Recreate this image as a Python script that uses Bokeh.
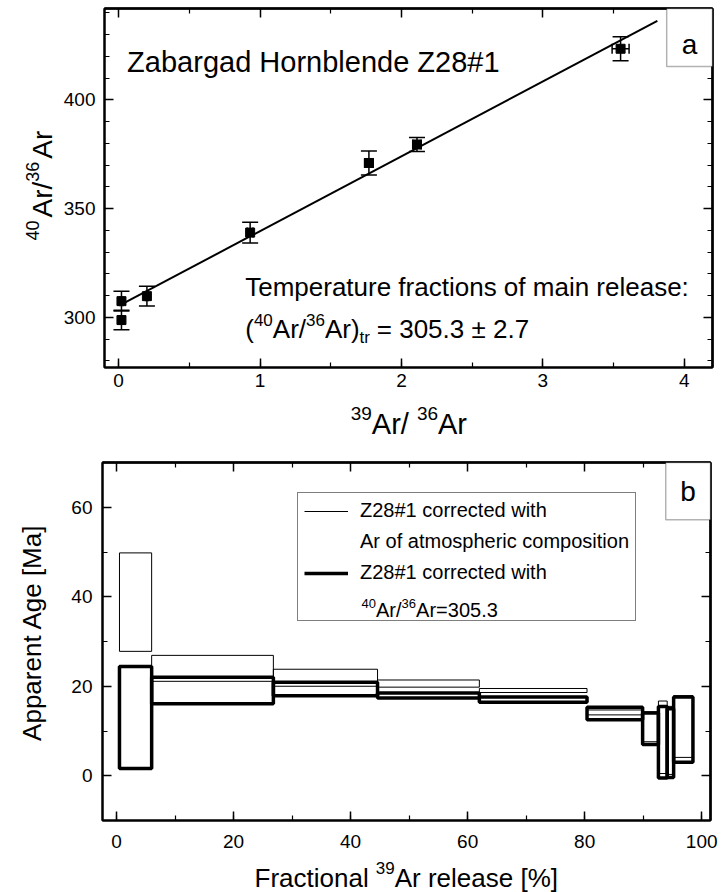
import math
from bokeh.plotting import figure
from bokeh.models import (Range1d, SingleIntervalTicker, FixedTicker, LinearAxis, Whisker,
                          TeeHead, ColumnDataSource, Label, BoxAnnotation, Legend, LegendItem)
from bokeh.layouts import column, row
from bokeh.embed import file_html
from bokeh.resources import INLINE

FONT = "Liberation Sans"

# ---------------- Panel a: isochron data ----------------
ratio39_36 = [0.02, 0.02, 0.20, 0.93, 1.77, 2.11, 3.55]
ratio40_36 = [307.5, 298.8, 309.8, 339.0, 371.0, 379.5, 423.5]
err40_36 = [4.5, 4.5, 4.5, 4.8, 5.5, 3.2, 5.5]
err39_36 = [0.01, 0.01, 0.01, 0.02, 0.03, 0.03, 0.06]
fit_intercept = 305.3
fit_slope = 34.4
fit_x = [0.02, 3.81]

# tick positions
a_x_major = [0, 1, 2, 3, 4]
a_x_minor = [0.5, 1.5, 2.5, 3.5]
a_y_major = [300, 350, 400]
a_y_minor = [280, 290, 310, 320, 330, 340, 360, 370, 380, 390, 410, 420, 430, 440]

# ---------------- Panel b: age spectra ----------------
step_edges = [0.5, 6.0, 26.8, 44.6, 62.0, 80.4, 89.9, 92.6, 94.1, 95.2, 98.5]
atm_low = [27.8, 21.1, 20.0, 19.8, 18.6, 13.6, 7.6, 0.5, 0.3, 4.1]
atm_high = [49.8, 26.9, 23.8, 21.4, 19.5, 14.7, 14.3, 16.7, 15.5, 17.9]
tr_low = [1.6, 16.1, 17.9, 17.4, 16.4, 12.5, 7.0, -0.5, -0.4, 3.0]
tr_high = [24.4, 22.0, 20.9, 18.5, 17.6, 15.3, 14.0, 15.5, 15.0, 17.6]

b_x_major = [0, 20, 40, 60, 80, 100]
b_x_minor = [10, 30, 50, 70, 90]
b_y_major = [0, 20, 40, 60]
b_y_minor = [-10, 10, 30, 50, 70]

legend_labels = ["Z28#1 corrected with", "Ar of atmospheric composition",
                 "Z28#1 corrected with", "40Ar/36Ar=305.3"]

TW = 60          # width of the strip holding the vertical axis titles
PW = 721 - TW    # width of the plot figures
LB = 102 - TW    # left border of the plot figures


def style_axis(ax, interval, minor, standoff):
    ax.ticker = SingleIntervalTicker(interval=interval, num_minor_ticks=minor)
    ax.axis_line_width = 2
    ax.axis_line_color = "black"
    ax.major_tick_in = 9
    ax.major_tick_out = 0
    ax.minor_tick_in = 5
    ax.minor_tick_out = 0
    ax.major_tick_line_width = 1.5
    ax.minor_tick_line_width = 1.2
    ax.major_tick_line_color = "black"
    ax.minor_tick_line_color = "black"
    ax.major_label_text_font = FONT
    ax.major_label_text_font_size = "19px"
    ax.major_label_text_color = "black"
    ax.major_label_standoff = standoff
    ax.axis_label = None


def mirror(p, side, majors, minors):
    for ticks, length, width in ((majors, 9, 1.5), (minors, 5, 1.2)):
        ax = LinearAxis(ticker=FixedTicker(ticks=[], minor_ticks=ticks),
                        axis_line_width=2, axis_line_color="black",
                        major_tick_in=0, major_tick_out=0,
                        minor_tick_in=length, minor_tick_out=0,
                        minor_tick_line_width=width, minor_tick_line_color="black",
                        major_label_standoff=0, axis_label=None)
        p.add_layout(ax, side)


def make_fig(xr, yr, height, top, bottom, right, xint, xmin, yint, ymin, xs, ys):
    p = figure(width=PW, height=height, x_range=Range1d(*xr), y_range=Range1d(*yr),
               output_backend="svg", toolbar_location=None,
               min_border_left=LB, min_border_right=right,
               min_border_top=top, min_border_bottom=bottom)
    p.xgrid.visible = False
    p.ygrid.visible = False
    p.outline_line_color = "black"
    p.outline_line_width = 2
    p.background_fill_color = "white"
    p.border_fill_color = "white"
    style_axis(p.below[0], xint, xmin, xs)
    style_axis(p.left[0], yint, ymin, ys)
    return p


def title_fig(w, h, xr, yr, left=0, right=0, top=0, bottom=0):
    """Blank figure for axis titles; its ranges are set so data units equal page pixels."""
    f = figure(width=w, height=h, x_range=Range1d(*xr), y_range=Range1d(*yr),
               output_backend="svg", toolbar_location=None, x_axis_type=None,
               y_axis_type=None, min_border_left=left, min_border_right=right,
               min_border_top=top, min_border_bottom=bottom)
    f.outline_line_color = None
    f.background_fill_color = "white"
    f.border_fill_color = "white"
    return f


def runs(p, x, y, pieces, angle=0.0, level="annotation"):
    """pieces: (text, font px, advance px, raise px), offset from an anchor point."""
    for txt, fs, adv, rise in pieces:
        if angle == 0:
            dx, dy = adv, rise
        else:  # rotated 90 deg counter-clockwise
            dx, dy = -rise, adv
        p.add_layout(Label(x=x, y=y, x_offset=dx, y_offset=dy, text=txt, angle=angle,
                           text_font=FONT, text_font_size=f"{fs}px", text_color="black",
                           text_baseline="alphabetic", text_align="left", level=level))


# ================= Panel a =================
xa = (-0.1, 4.2)
ya = (277, 442)
pa = make_fig(xa, ya, 395, 8, 28, 9, 1, 2, 50, 5, 6, 9)
mirror(pa, "above", a_x_major, a_x_minor)
mirror(pa, "right", a_y_major, a_y_minor)

src_a = ColumnDataSource(dict(
    x=ratio39_36, y=ratio40_36,
    ylo=[v - e for v, e in zip(ratio40_36, err40_36)],
    yhi=[v + e for v, e in zip(ratio40_36, err40_36)],
    xlo=[v - e for v, e in zip(ratio39_36, err39_36)],
    xhi=[v + e for v, e in zip(ratio39_36, err39_36)],
))
fit_y = [fit_intercept + fit_slope * v for v in fit_x]
pa.line(fit_x, fit_y, line_color="black", line_width=2)
pa.add_layout(Whisker(base="x", lower="ylo", upper="yhi", source=src_a, dimension="height",
                      line_color="black", line_width=1.5,
                      upper_head=TeeHead(size=16, line_width=1.5, line_color="black"),
                      lower_head=TeeHead(size=16, line_width=1.5, line_color="black")))
pa.add_layout(Whisker(base="y", lower="xlo", upper="xhi", source=src_a, dimension="width",
                      line_color="black", line_width=1.5,
                      upper_head=TeeHead(size=10, line_width=1.5, line_color="black"),
                      lower_head=TeeHead(size=10, line_width=1.5, line_color="black")))
pa.scatter("x", "y", source=src_a, marker="square", size=9, fill_color="black",
           line_color="black")

pa.add_layout(Label(x=0.06, y=417.2, text="Zabargad Hornblende Z28#1", text_font=FONT,
                    text_font_size="29px", text_color="black", text_baseline="alphabetic"))
pa.add_layout(Label(x=0.895, y=314, text="Temperature fractions of main release:",
                    text_font=FONT, text_font_size="26px", text_color="black",
                    text_baseline="alphabetic"))
runs(pa, 0.895, 294.5, [("(", 26, 0.0, 0), ("40", 17, 8.7, 9), ("Ar/", 26, 27.6, 0),
                        ("36", 17, 60.8, 9), ("Ar)", 26, 79.7, 0), ("tr", 17, 114.4, -8),
                        ("= 305.3 \u00b1 2.7", 26, 131.6, 0)])

box_a_left = 3.876
box_a_bottom = 415.3
pa.add_layout(BoxAnnotation(left=box_a_left, right=xa[1], bottom=box_a_bottom, top=ya[1],
                            fill_color="white", fill_alpha=1, line_color="black",
                            line_width=1.5))
pa.add_layout(Label(x=(box_a_left + xa[1]) / 2, y=425.5, text="a",
                    text_font=FONT, text_font_size="28px", text_color="black",
                    text_align="center", text_baseline="middle"))

# axis titles of panel a (page-pixel coordinates)
ya_title = title_fig(TW, 440, (0, TW), (367, 8), top=8, bottom=73)
runs(ya_title, 42, 240, [("40", 18, 0.0, 10), ("Ar/", 28, 23.0, 0), ("36", 18, 58.8, 10),
                         ("Ar", 28, 81.8, 0)], angle=math.pi / 2)
xa_title = title_fig(PW, 45, (102, 712), (440, 395), left=LB, right=9)
runs(xa_title, 349, 423, [("39", 19, 0.0, 10), ("Ar/", 29, 21.1, 0), ("36", 19, 66.2, 10),
                          ("Ar", 29, 87.3, 0)])

# ================= Panel b =================
xb = (-2.4, 101.5)
yb = (-10, 70)
pb = make_fig(xb, yb, 412, 22, 32, 11, 20, 2, 20, 2, 14, 10)
mirror(pb, "above", b_x_major, b_x_minor)
mirror(pb, "right", b_y_major, b_y_minor)

lefts = step_edges[:-1]
rights = step_edges[1:]
pb.quad(left=lefts, right=rights, bottom=atm_low, top=atm_high, fill_color=None,
        line_color="black", line_width=1)
pb.quad(left=lefts, right=rights, bottom=tr_low, top=tr_high, fill_color=None,
        line_color="black", line_width=3.5)

# one-point lines: invisible in the plot, used only for legend samples
leg_thin = pb.line(x=lefts[:1], y=atm_low[:1], line_color="black", line_width=1)
leg_thick = pb.line(x=lefts[:1], y=tr_low[:1], line_color="black", line_width=3.5)
leg_none = pb.line(x=lefts[:1], y=tr_low[:1], line_color="black", line_alpha=0)
legend = Legend(items=[LegendItem(label=legend_labels[0], renderers=[leg_thin]),
                       LegendItem(label=legend_labels[1], renderers=[leg_none]),
                       LegendItem(label=legend_labels[2], renderers=[leg_thick]),
                       LegendItem(label=" ", renderers=[leg_none])],
                location=(195, 199), label_text_font=FONT, label_text_font_size="20px",
                label_text_color="black", glyph_width=44, glyph_height=22, label_height=22,
                label_standoff=12, padding=6, spacing=8, margin=0,
                border_line_color="black", border_line_width=1.5,
                background_fill_color=None, background_fill_alpha=0)
pb.add_layout(legend)
# last legend row (with superscripts), drawn in the empty legend row
runs(pb, 41.86, 36.93, [("40", 13, 0.0, 7), ("Ar/", 20, 14.5, 0), ("36", 13, 40.1, 7),
                        ("Ar=305.3", 20, 54.6, 0)], level="overlay")

box_b_left = 93.85
box_b_bottom = 57.2
pb.add_layout(BoxAnnotation(left=box_b_left, right=xb[1], bottom=box_b_bottom, top=yb[1],
                            fill_color="white", fill_alpha=1, line_color="black",
                            line_width=1.5))
pb.add_layout(Label(x=(box_b_left + xb[1]) / 2, y=(box_b_bottom + yb[1]) / 2, text="b",
                    text_font=FONT, text_font_size="28px", text_color="black",
                    text_align="center", text_baseline="middle"))

# axis titles of panel b (page-pixel coordinates)
yb_title = title_fig(TW, 452, (0, TW), (820, 462), top=22, bottom=72)
yb_title.add_layout(Label(x=31, y=632, angle=math.pi / 2, text="Apparent Age [Ma]",
                          text_font=FONT, text_font_size="26px", text_color="black",
                          text_align="center", text_baseline="alphabetic"))
xb_title = title_fig(PW, 40, (102, 710), (892, 852), left=LB, right=11)
runs(xb_title, 254, 877, [("Fractional", 26, 0.0, 0), ("39", 17, 121.3, 10),
                          ("Ar release [%]", 26, 140.2, 0)])

layout = column(row(ya_title, column(pa, xa_title, spacing=0), spacing=0),
                row(yb_title, column(pb, xb_title, spacing=0), spacing=0),
                spacing=0)
open("out.html", "w").write(file_html(layout, INLINE))
